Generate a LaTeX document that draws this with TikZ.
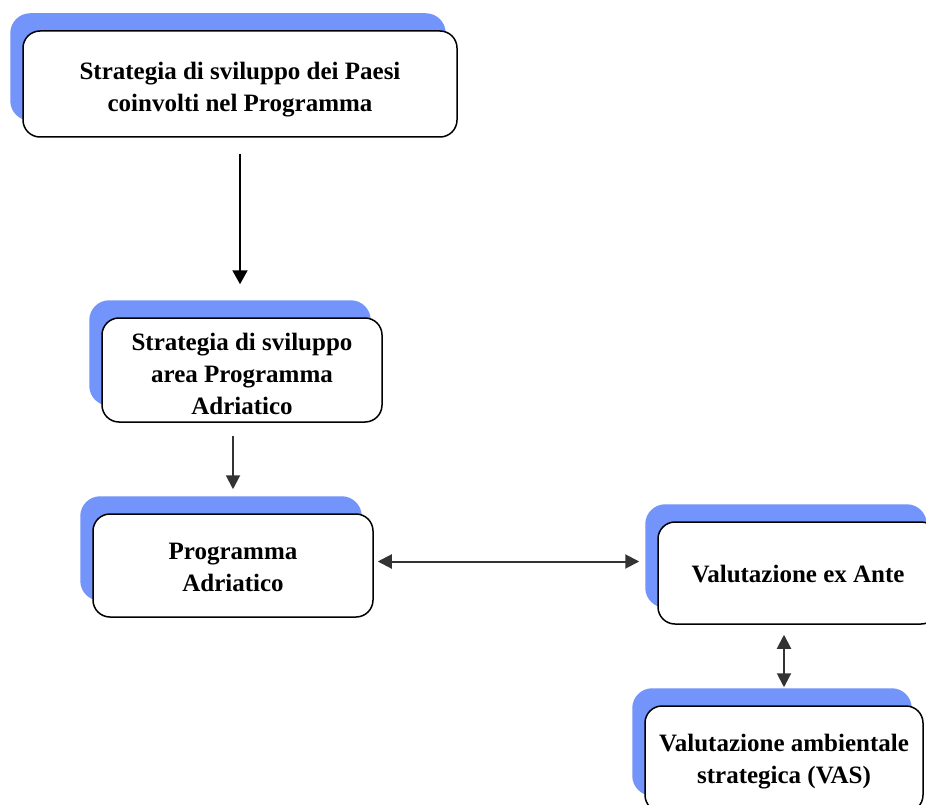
\documentclass[tikz,border=0pt]{standalone}
\usepackage{fontspec}
\setmainfont{Liberation Serif}
\usetikzlibrary{arrows.meta,backgrounds}
\definecolor{shadowblue}{RGB}{115,148,250}
\definecolor{arrgray}{RGB}{51,51,51}
\tikzset{
  boxnode/.style={draw=black, line width=1.5pt, fill=white, rounded corners=17pt,
    inner sep=0pt},
  boxtext/.style={align=center, inner sep=0pt, font=\bfseries\fontsize{25}{32}\selectfont},
  arrblack/.style={draw=black, line width=2pt, -{Triangle[length=14pt,width=15pt]}},
  arrgrey/.style={draw=arrgray, line width=2pt, -{Triangle[length=14pt,width=14pt]}},
  arrboth/.style={draw=arrgray, line width=2pt, {Triangle[length=14pt,width=14pt]}-{Triangle[length=14pt,width=14pt]}},
}
\newcommand{\boxshadow}[1]{%
  \fill[shadowblue, rounded corners=20pt] ([shift={(-12pt,17pt)}]#1.south west) rectangle ([shift={(-12pt,17pt)}]#1.north east);}
\begin{document}
\begin{tikzpicture}[x=1pt,y=-1pt]
\clip (0,0) rectangle (926,805);
\node[boxnode, minimum width=434pt, minimum height=106pt,
  label={[boxtext, yshift=-6pt]center:{Strategia di sviluppo dei Paesi\\coinvolti nel Programma}}] (b1) at (240,84) {};
\node[boxnode, minimum width=280pt, minimum height=104pt,
  label={[boxtext, yshift=-4pt]center:{Strategia di sviluppo\\area Programma\\Adriatico}}] (b2) at (242,370) {};
\node[boxnode, minimum width=280pt, minimum height=103pt,
  label={[boxtext, yshift=-2pt]center:{Programma\\Adriatico}}] (b3) at (233,565.5) {};
\node[boxnode, minimum width=280pt, minimum height=102pt,
  label={[boxtext, yshift=-1pt]center:{Valutazione ex Ante}}] (b4) at (798,573) {};
\node[boxnode, minimum width=278pt, minimum height=106pt,
  label={[boxtext, yshift=-2.5pt]center:{Valutazione ambientale\\strategica (VAS)}}] (b5) at (784,759) {};
\begin{scope}[on background layer]
  \boxshadow{b1}
  \boxshadow{b2}
  \boxshadow{b3}
  \boxshadow{b4}
  \boxshadow{b5}
\end{scope}
\draw[arrblack, shorten <=16pt, shorten >=33pt] (b1.south) -- (b1.south |- b2.north);
\draw[arrgrey, shorten <=13pt, shorten >=24pt] (b3.north |- b2.south) -- (b3.north);
\draw[arrboth, shorten <=4pt, shorten >=18pt] ([yshift=4pt]b3.east) -- ([yshift=4pt]b3.east -| b4.west);
\draw[arrboth, shorten <=10pt, shorten >=18pt] (b5.north |- b4.south) -- (b5.north);
\end{tikzpicture}
\end{document}
